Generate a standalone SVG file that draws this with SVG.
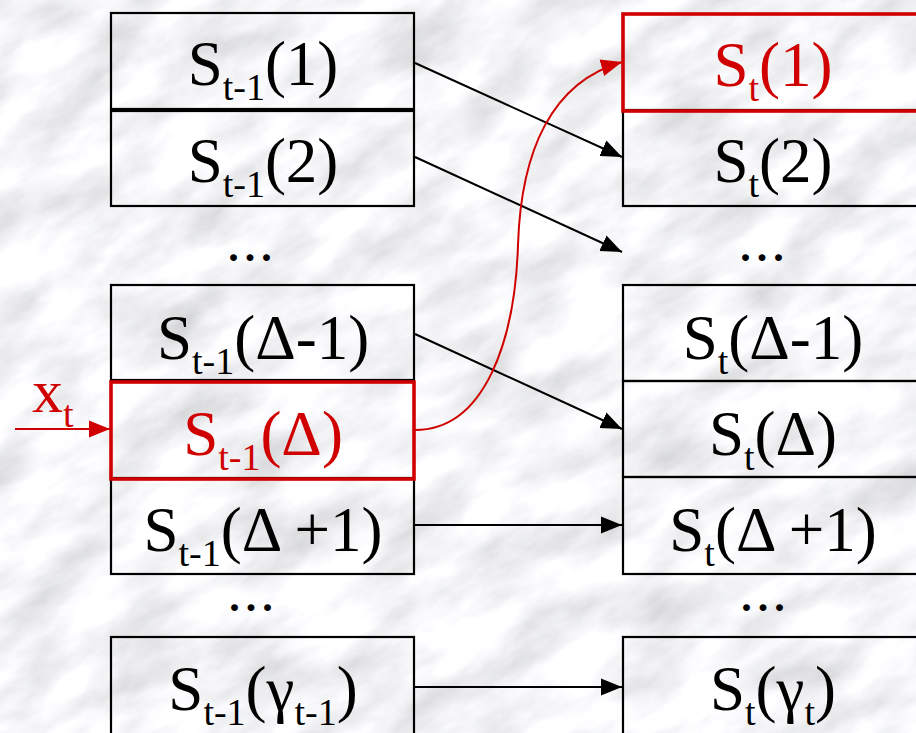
<svg xmlns="http://www.w3.org/2000/svg" width="916" height="733" viewBox="0 0 916 733">
<defs>
<filter id="marble" x="-200" y="-400" width="1400" height="1500" filterUnits="userSpaceOnUse">
<feTurbulence type="fractalNoise" baseFrequency="0.011 0.024" numOctaves="6" seed="11" result="n"/>
<feColorMatrix in="n" type="matrix" values="0.6 0 0 0 0.61  0.6 0 0 0 0.615  0.6 0 0 0 0.63  0 0 0 0 1"/>
</filter>
<marker id="ah" markerUnits="userSpaceOnUse" markerWidth="22" markerHeight="18" refX="21" refY="8.5" orient="auto" viewBox="0 0 22 17">
<path d="M0,0 L21,8.5 L0,17 z" fill="#000"/>
</marker>
<marker id="ahr" markerUnits="userSpaceOnUse" markerWidth="22" markerHeight="18" refX="21" refY="8.5" orient="auto" viewBox="0 0 22 17">
<path d="M0,0 L21,8.5 L0,17 z" fill="#d00000"/>
</marker>
<style>
.box{fill:none;stroke:#000;stroke-width:2.2}
.rbox{fill:none;stroke:#d00000;stroke-width:3.6}
.lbl{font-family:"Liberation Serif","Times New Roman",serif;font-size:63px;fill:#000;text-anchor:middle}
.dots{font-family:"Liberation Serif","Times New Roman",serif;font-size:42px;font-weight:bold;letter-spacing:6px;fill:#000;text-anchor:middle}
.red{fill:#d00000}
.sub{font-size:38px}
.con{fill:none;stroke:#000;stroke-width:2;marker-end:url(#ah)}
.rcon{fill:none;stroke:#d00000;stroke-width:2;marker-end:url(#ahr)}
</style>
</defs>
<rect x="0" y="0" width="916" height="733" fill="#e4e5e8"/>
<rect x="-200" y="-400" width="1400" height="1500" filter="url(#marble)" transform="rotate(-30 458 366)"/>

<g id="left-1"><rect class="box" x="111" y="13" width="303" height="96"/>
<text class="lbl" x="263" y="85">S<tspan class="sub" dy="15">t-1</tspan><tspan dy="-15">(1)</tspan></text></g>
<g id="left-2"><rect class="box" x="111" y="111" width="303" height="95"/>
<text class="lbl" x="263" y="182">S<tspan class="sub" dy="15">t-1</tspan><tspan dy="-15">(2)</tspan></text></g>
<g id="left-dots1"><text class="dots" x="253" y="261">...</text></g>
<g id="left-d1"><rect class="box" x="111" y="285" width="303" height="95"/>
<text class="lbl" x="263" y="359">S<tspan class="sub" dy="15">t-1</tspan><tspan dy="-15">(Δ-1)</tspan></text></g>
<g id="left-d3"><rect class="box" x="111" y="478" width="303" height="96"/>
<text class="lbl" x="263" y="551">S<tspan class="sub" dy="15">t-1</tspan><tspan dy="-15">(Δ +1)</tspan></text></g>
<g id="left-dots2"><text class="dots" x="254" y="611">...</text></g>
<g id="left-g"><rect class="box" x="111" y="637" width="303" height="100"/>
<text class="lbl" x="263" y="710">S<tspan class="sub" dy="15">t-1</tspan><tspan dy="-15">(γ</tspan><tspan class="sub" dy="15">t-1</tspan><tspan dy="-15">)</tspan></text></g>
<g id="left-d2"><rect class="rbox" x="111" y="382" width="303" height="97"/>
<text class="lbl red" x="263" y="455">S<tspan class="sub" dy="15">t-1</tspan><tspan dy="-15">(Δ)</tspan></text></g>

<g id="right-2"><rect class="box" x="623" y="110" width="303" height="96"/>
<text class="lbl" x="773" y="182">S<tspan class="sub" dy="15">t</tspan><tspan dy="-15">(2)</tspan></text></g>
<g id="right-1"><rect class="rbox" x="623" y="14" width="303" height="97"/>
<text class="lbl red" x="773" y="86">S<tspan class="sub" dy="15">t</tspan><tspan dy="-15">(1)</tspan></text></g>
<g id="right-dots1"><text class="dots" x="765" y="261">...</text></g>
<g id="right-d1"><rect class="box" x="623" y="285" width="303" height="96"/>
<text class="lbl" x="773" y="359">S<tspan class="sub" dy="15">t</tspan><tspan dy="-15">(Δ-1)</tspan></text></g>
<g id="right-d2"><rect class="box" x="623" y="381" width="303" height="96"/>
<text class="lbl" x="773" y="455">S<tspan class="sub" dy="15">t</tspan><tspan dy="-15">(Δ)</tspan></text></g>
<g id="right-d3"><rect class="box" x="623" y="477" width="303" height="97"/>
<text class="lbl" x="773" y="551">S<tspan class="sub" dy="15">t</tspan><tspan dy="-15">(Δ +1)</tspan></text></g>
<g id="right-dots2"><text class="dots" x="766" y="611">...</text></g>
<g id="right-g"><rect class="box" x="623" y="637" width="303" height="100"/>
<text class="lbl" x="773" y="710">S<tspan class="sub" dy="15">t</tspan><tspan dy="-15">(γ</tspan><tspan class="sub" dy="15">t</tspan><tspan dy="-15">)</tspan></text></g>

<g id="input-x"><text class="lbl red" x="32" y="412" style="text-anchor:start;font-size:62px">x<tspan class="sub" dy="15">t</tspan></text></g>

<g id="connectors">
<line class="con" x1="415" y1="63" x2="622" y2="157"/>
<line class="con" x1="415" y1="157" x2="622" y2="252"/>
<line class="con" x1="415" y1="334" x2="622" y2="429"/>
<line class="con" x1="415" y1="525" x2="622" y2="525"/>
<line class="con" x1="415" y1="687" x2="622" y2="687"/>
<path class="rcon" d="M415,430 C485,430 515,340 518,245 C521,150 552,82 622,62"/>
<line class="rcon" x1="15" y1="429" x2="110" y2="429"/>
</g>
</svg>
